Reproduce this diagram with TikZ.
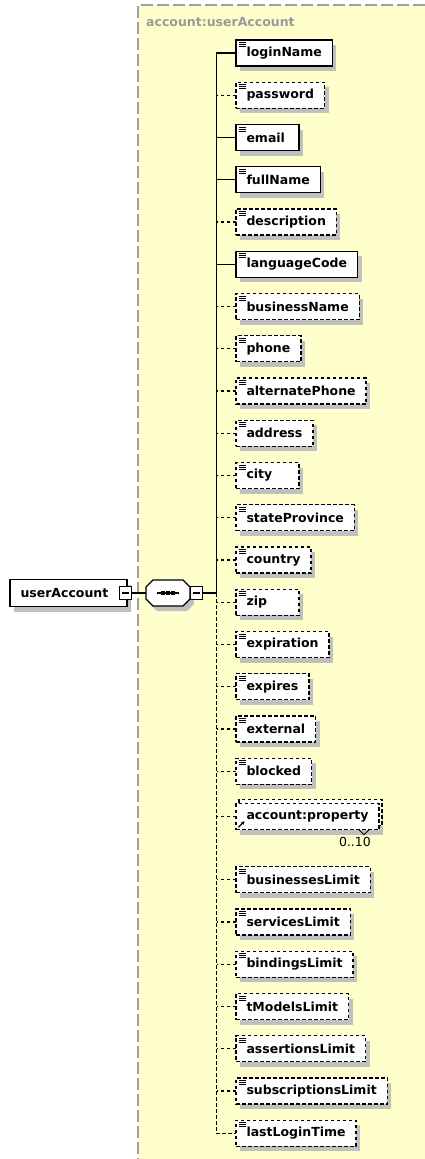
\documentclass[tikz,border=0pt]{standalone}
\usepackage{fontspec}
\setmainfont{DejaVu Sans}
\usepackage{tikz}
\usetikzlibrary{arrows.meta,positioning,shadows}
\definecolor{Panel}{HTML}{FFFFCC}
\definecolor{Frame}{HTML}{A0A0A0}
\definecolor{Shade}{HTML}{C0C0C0}
\definecolor{Caption}{HTML}{9A9A9A}
\tikzset{
 box/.style={draw=black,fill=white,line width=1.4pt,minimum height=26pt,minimum width=63pt,
   inner xsep=10.5pt,inner ysep=0pt,outer sep=0pt,font=\bfseries\fontsize{12.5}{15}\selectfont,
   drop shadow={shadow xshift=4pt,shadow yshift=-5pt,fill=Shade,opacity=1}},
 elem/.style={box,path picture={\foreach \k in {2.5,4.5,6.5}
   \draw[solid,line width=0.9pt] ([xshift=3pt,yshift=-\k pt]path picture bounding box.north west) -- ++(6.5pt,0pt);}},
 opt/.style={elem,dash pattern=on 3.5pt off 2.5pt},
 narrow/.style={text width=42pt,align=left},
 refopt/.style={box,dash pattern=on 3.5pt off 2.5pt,
   general shadow={shadow xshift=3pt,shadow yshift=4pt,fill=white,draw=black,line width=1.2pt,dash pattern=on 3.5pt off 2.5pt},
   path picture={\draw[solid,line width=1.2pt,-{Stealth[length=3.5pt,width=3.5pt]}]
   ([xshift=2.5pt,yshift=2.5pt]path picture bounding box.south west) -- ++(6pt,6pt);}},
 root/.style={box,text width=96pt,align=left,minimum height=27pt},
 toggle/.style={draw=black,fill=white,line width=1.1pt,minimum size=12.5pt,inner sep=0pt,outer sep=0pt,
   path picture={\draw[line width=1.1pt] ([xshift=-3.5pt]path picture bounding box.center) -- ([xshift=3.5pt]path picture bounding box.center);}},
 seqbox/.style={minimum width=44pt,minimum height=26pt,inner sep=0pt,outer sep=0pt},
 octo/.style={fill=white,draw=black,line width=1.3pt,preaction={fill=Shade,transform canvas={xshift=4pt,yshift=-5pt}}},
 under/.style={below=of #1.south west,anchor=north west},
 title/.style={font=\bfseries\fontsize{12.5}{15}\selectfont,text=Caption,inner sep=0pt},
 card/.style={font=\fontsize{12.5}{15}\selectfont,inner sep=0pt},
 link/.style={line width=1.4pt,draw=black},
 optlink/.style={link,dash pattern=on 3.5pt off 2.5pt}
}
\begin{document}
\begin{tikzpicture}[x=1pt,y=-1pt,node distance=16.25pt]
\useasboundingbox (0,0) rectangle (425,1159);
% group panel
\fill[Panel] (138,5) rectangle (425,1159);
\draw[Frame,line width=1.6pt,dash pattern=on 12pt off 4pt] (425,5) -- (138,5) -- (138,1159);
\node[title,anchor=west] (caption) at (146,22) {account:userAccount};
% root and sequence
\node[root] (userAccount) at (68.5,593) {userAccount};
\node[toggle] (rootTog) at (125.5,593) {};
\node[seqbox] (seq) at (168,593) {};
\draw[octo] ([xshift=7pt]seq.north west) -- ([xshift=-7pt]seq.north east) -- ([yshift=-7pt]seq.north east)
  -- ([yshift=7pt]seq.south east) -- ([xshift=-7pt]seq.south east) -- ([xshift=7pt]seq.south west)
  -- ([yshift=7pt]seq.south west) -- ([yshift=-7pt]seq.north west) -- cycle;
\draw[line width=1.2pt] ([xshift=-11pt]seq.center) -- ([xshift=11pt]seq.center);
\fill ([xshift=-6.8pt,yshift=-1.8pt]seq.center) rectangle ++(3.6pt,3.6pt);
\fill ([xshift=-1.8pt,yshift=-1.8pt]seq.center) rectangle ++(3.6pt,3.6pt);
\fill ([xshift=3.2pt,yshift=-1.8pt]seq.center) rectangle ++(3.6pt,3.6pt);
\node[toggle] (seqTog) at (196.5,593) {};
\coordinate (jn) at (216.5,593);
% children
\node[elem,anchor=west] (loginName) at (236,53) {loginName};
\node[opt,under=loginName] (password) {password};
\node[elem,narrow,under=password] (email) {email};
\node[elem,under=email] (fullName) {fullName};
\node[opt,under=fullName] (description) {description};
\node[elem,under=description] (languageCode) {languageCode};
\node[opt,under=languageCode] (businessName) {businessName};
\node[opt,under=businessName] (phone) {phone};
\node[opt,under=phone] (alternatePhone) {alternatePhone};
\node[opt,under=alternatePhone] (address) {address};
\node[opt,narrow,under=address] (city) {city};
\node[opt,under=city] (stateProvince) {stateProvince};
\node[opt,under=stateProvince] (country) {country};
\node[opt,narrow,under=country] (zip) {zip};
\node[opt,under=zip] (expiration) {expiration};
\node[opt,under=expiration] (expires) {expires};
\node[opt,under=expires] (external) {external};
\node[opt,under=external] (blocked) {blocked};
\node[refopt,below=19.5pt of blocked.south west,anchor=north west] (property) {account:property};
\node[card,anchor=north east] (propMax) at ([xshift=-8pt,yshift=-7pt]property.south east) {0..10};
\draw[line width=0.9pt] ([xshift=-20pt]property.south east) -- ++(5pt,-5pt) -- ++(5pt,5pt);
\node[opt,below=37pt of property.south west,anchor=north west] (businessesLimit) {businessesLimit};
\node[opt,under=businessesLimit] (servicesLimit) {servicesLimit};
\node[opt,under=servicesLimit] (bindingsLimit) {bindingsLimit};
\node[opt,under=bindingsLimit] (tModelsLimit) {tModelsLimit};
\node[opt,under=tModelsLimit] (assertionsLimit) {assertionsLimit};
\node[opt,under=assertionsLimit] (subscriptionsLimit) {subscriptionsLimit};
\node[opt,under=subscriptionsLimit] (lastLoginTime) {lastLoginTime};
% connectors
\draw[link] (rootTog) -- (seq.west);\draw[link] (seqTog) -- (jn);
\draw[link] (loginName.west) -| (jn);
\draw[optlink] (jn) |- (lastLoginTime.west);
\draw[link] (email.west) -- (email.west -| jn);\draw[link] (fullName.west) -- (fullName.west -| jn);
\draw[link] (languageCode.west) -- (languageCode.west -| jn);
\draw[optlink] (password.west) -- (password.west -| jn);\draw[optlink] (description.west) -- (description.west -| jn);
\draw[optlink] (businessName.west) -- (businessName.west -| jn);\draw[optlink] (phone.west) -- (phone.west -| jn);
\draw[optlink] (alternatePhone.west) -- (alternatePhone.west -| jn);\draw[optlink] (address.west) -- (address.west -| jn);
\draw[optlink] (city.west) -- (city.west -| jn);\draw[optlink] (stateProvince.west) -- (stateProvince.west -| jn);
\draw[optlink] (country.west) -- (country.west -| jn);\draw[optlink] (zip.west) -- (zip.west -| jn);
\draw[optlink] (expiration.west) -- (expiration.west -| jn);\draw[optlink] (expires.west) -- (expires.west -| jn);
\draw[optlink] (external.west) -- (external.west -| jn);\draw[optlink] (blocked.west) -- (blocked.west -| jn);
\draw[optlink] (property.west) -- (property.west -| jn);
\draw[optlink] (businessesLimit.west) -- (businessesLimit.west -| jn);\draw[optlink] (servicesLimit.west) -- (servicesLimit.west -| jn);
\draw[optlink] (bindingsLimit.west) -- (bindingsLimit.west -| jn);\draw[optlink] (tModelsLimit.west) -- (tModelsLimit.west -| jn);
\draw[optlink] (assertionsLimit.west) -- (assertionsLimit.west -| jn);
\draw[optlink] (subscriptionsLimit.west) -- (subscriptionsLimit.west -| jn);
\end{tikzpicture}
\end{document}
